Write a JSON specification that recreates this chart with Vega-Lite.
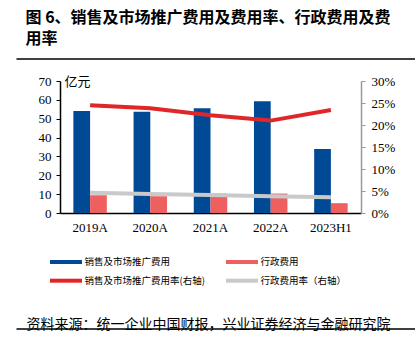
{
  "$schema": "https://vega.github.io/schema/vega-lite/v6.json",
  "padding": {"left": 15, "top": 10, "right": 0, "bottom": 0},
  "background": "white",
  "title": {
    "text": ["图 6、销售及市场推广费用及费用率、行政费用及费", "用率"],
    "anchor": "start",
    "fontSize": 16,
    "fontWeight": "bold",
    "font": "Noto Sans CJK SC",
    "lineHeight": 21,
    "dx": 10,
    "offset": 11,
    "color": "#000000"
  },
  "config": {"view": {"stroke": null}},
  "spacing": 15,
  "datasets": {
    "main": [
      {"year": "2019A", "series": "销售及市场推广费用", "value": 54.1},
      {"year": "2020A", "series": "销售及市场推广费用", "value": 53.7},
      {"year": "2021A", "series": "销售及市场推广费用", "value": 55.5},
      {"year": "2022A", "series": "销售及市场推广费用", "value": 59.2},
      {"year": "2023H1", "series": "销售及市场推广费用", "value": 33.9},
      {"year": "2019A", "series": "行政费用", "value": 9.4},
      {"year": "2020A", "series": "行政费用", "value": 8.9},
      {"year": "2021A", "series": "行政费用", "value": 10.3},
      {"year": "2022A", "series": "行政费用", "value": 10.3},
      {"year": "2023H1", "series": "行政费用", "value": 5.2},
      {"year": "2019A", "series": "销售及市场推广费用率(右轴)", "value": 0.245},
      {"year": "2020A", "series": "销售及市场推广费用率(右轴)", "value": 0.238},
      {"year": "2021A", "series": "销售及市场推广费用率(右轴)", "value": 0.222},
      {"year": "2022A", "series": "销售及市场推广费用率(右轴)", "value": 0.210},
      {"year": "2023H1", "series": "销售及市场推广费用率(右轴)", "value": 0.234},
      {"year": "2019A", "series": "行政费用率（右轴）", "value": 0.046},
      {"year": "2020A", "series": "行政费用率（右轴）", "value": 0.043},
      {"year": "2021A", "series": "行政费用率（右轴）", "value": 0.041},
      {"year": "2022A", "series": "行政费用率（右轴）", "value": 0.038},
      {"year": "2023H1", "series": "行政费用率（右轴）", "value": 0.036}
    ],
    "sep": [{"a": 0, "b": 0}, {"a": 1, "b": 0}]
  },
  "vconcat": [
    {
      "data": {"name": "sep"},
      "width": 355,
      "height": 1,
      "mark": {"type": "rule", "color": "#404040", "stroke": "#404040", "strokeWidth": 2},
      "encoding": {
        "x": {"field": "a", "aggregate": "min", "type": "quantitative", "scale": {"domain": [0, 1], "range": [-43.5, 355]}, "axis": null},
        "x2": {"field": "a", "aggregate": "max"},
        "y": {"field": "b", "aggregate": "min", "type": "quantitative", "scale": {"domain": [0, 1]}, "axis": null}
      }
    },
    {
      "data": {"name": "main"},
      "width": 301,
      "height": 132,
      "encoding": {
        "x": {
          "field": "year",
          "type": "nominal",
          "sort": ["2019A", "2020A", "2021A", "2022A", "2023H1"],
          "scale": {"paddingInner": 0.444, "paddingOuter": 0.222},
          "axis": {
            "title": null,
            "labelAngle": 0,
            "labelFont": "Liberation Serif",
            "labelFontSize": 13,
            "labelColor": "#000000",
            "labelPadding": 8,
            "ticks": false,
            "domainColor": "#000000",
            "domainWidth": 1.5
          }
        }
      },
      "layer": [
        {
          "transform": [{"filter": "datum.series == '销售及市场推广费用' || datum.series == '行政费用'"}],
          "mark": {"type": "bar"},
          "encoding": {
            "xOffset": {"field": "series", "type": "nominal", "scale": {"domain": ["销售及市场推广费用", "行政费用"]}},
            "y": {
              "field": "value",
              "type": "quantitative",
              "scale": {"domain": [0, 70]},
              "axis": {
                "title": "亿元",
                "titleAngle": 0,
                "titleX": 4,
                "titleY": 0,
                "titleAlign": "left",
                "titleBaseline": "middle",
                "titleFont": "Noto Sans CJK SC",
                "titleFontSize": 13,
                "titleFontWeight": "normal",
                "titleColor": "#000000",
                "values": [0, 10, 20, 30, 40, 50, 60, 70],
                "grid": false,
                "labelFont": "Liberation Serif",
                "labelFontSize": 13,
                "labelColor": "#000000",
                "labelPadding": 5,
                "tickSize": 4,
                "tickColor": "#000000",
                "domainColor": "#000000",
                "domainWidth": 1.5,
                "minExtent": 43,
                "maxExtent": 43
              }
            },
            "color": {
              "field": "series",
              "type": "nominal",
              "scale": {
                "domain": ["销售及市场推广费用", "行政费用", "销售及市场推广费用率(右轴)", "行政费用率（右轴）"],
                "range": ["#004A95", "#EE5F5F", "#E1262A", "#C9C9C9"]
              },
              "legend": {
                "title": null,
                "orient": "none",
                "legendX": -1,
                "legendY": 197,
                "direction": "horizontal",
                "columns": 2,
                "columnPadding": 13,
                "rowPadding": 2.7,
                "symbolType": "M-3.2,0H3.2",
                "symbolSize": 100,
                "symbolStrokeWidth": 4,
                "labelFont": "Noto Sans CJK SC",
                "labelFontSize": 9.5,
                "labelColor": "#000000",
                "labelOffset": 11.5,
                "labelLimit": 300,
                "padding": 0,
                "encode": {
                  "symbols": {
                    "update": {
                      "stroke": {"scale": "color", "field": "value"},
                      "opacity": {"value": 1}
                    }
                  }
                }
              }
            }
          }
        },
        {
          "transform": [{"filter": "datum.series != '销售及市场推广费用' && datum.series != '行政费用'"}],
          "mark": {"type": "line", "strokeWidth": 4},
          "encoding": {
            "y": {
              "field": "value",
              "type": "quantitative",
              "scale": {"domain": [0, 0.3]},
              "axis": {
                "orient": "right",
                "title": null,
                "format": ".0%",
                "values": [0, 0.05, 0.1, 0.15, 0.2, 0.25, 0.3],
                "grid": false,
                "labelFont": "Liberation Serif",
                "labelFontSize": 13,
                "labelColor": "#000000",
                "labelPadding": 6,
                "tickSize": 4,
                "tickColor": "#999999",
                "domainColor": "#999999",
                "domainWidth": 1.5
              }
            },
            "color": {"field": "series", "type": "nominal"}
          }
        }
      ],
      "resolve": {"scale": {"y": "independent"}}
    },
    {
      "data": {"name": "sep"},
      "width": 355,
      "height": 80,
      "title": {
        "text": "资料来源：统一企业中国财报，兴业证券经济与金融研究院",
        "orient": "bottom",
        "anchor": "start",
        "frame": "bounds",
        "font": "Noto Sans CJK SC",
        "fontSize": 14,
        "fontWeight": "normal",
        "color": "#000000",
        "baseline": "top",
        "offset": -12,
        "dx": 11
      },
      "mark": {"type": "rule", "color": "#404040", "stroke": "#404040", "strokeWidth": 2},
      "encoding": {
        "x": {"field": "a", "aggregate": "min", "type": "quantitative", "scale": {"domain": [0, 1], "range": [-43.5, 355]}, "axis": null},
        "x2": {"field": "a", "aggregate": "max"},
        "y": {"field": "b", "aggregate": "min", "type": "quantitative", "scale": {"domain": [0, 1]}, "axis": null}
      }
    }
  ]
}
